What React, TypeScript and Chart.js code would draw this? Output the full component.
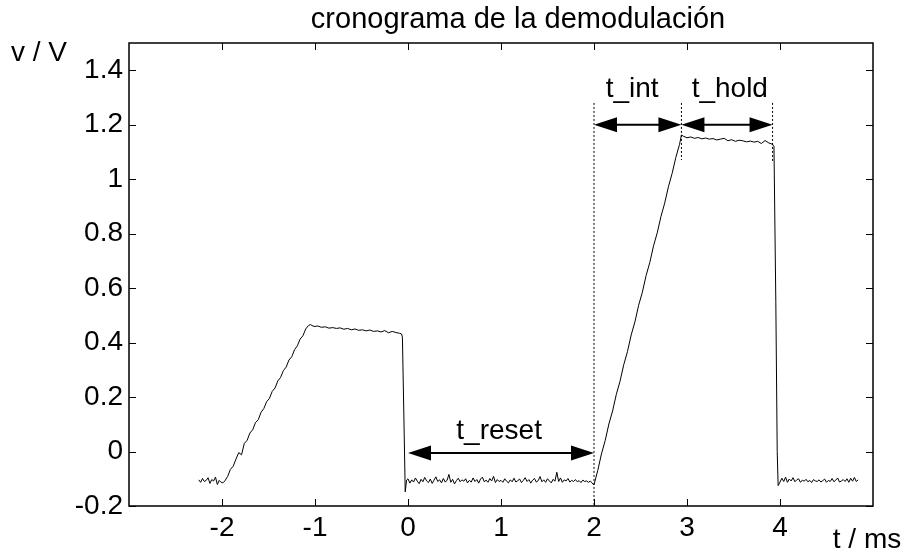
import React, { useEffect, useRef } from 'react';
import { Chart, registerables } from 'chart.js';

Chart.register(...registerables);

const FONT = '"Liberation Sans", Arial, Helvetica, sans-serif';

// ---- axis definition ----
const xMin = -3;
const xMax = 5;
const yMin = -0.2;
const yMax = 1.5;
const xTickValues = [-2, -1, 0, 1, 2, 3, 4];
const xTickLabels = ['-2', '-1', '0', '1', '2', '3', '4'];
const yTickValues = [-0.2, 0, 0.2, 0.4, 0.6, 0.8, 1.0, 1.2, 1.4];
const yTickLabels = ['-0.2', '0', '0.2', '0.4', '0.6', '0.8', '1', '1.2', '1.4'];

const chartTitle = 'cronograma de la demodulación';
const yAxisLabel = 'v / V';
const xAxisLabel = 't / ms';

// ---- measured trace (t in ms, v in V) ----
const baseline1T = [-2.25, -2.23, -2.21, -2.19, -2.17, -2.15, -2.13, -2.11, -2.09, -2.07, -2.05, -2.03, -2.01, -1.99];
const baseline1V = [-0.104, -0.113, -0.099, -0.110, -0.106, -0.096, -0.117, -0.103, -0.108, -0.094, -0.121, -0.106, -0.113, -0.115];

const ramp1T = [-1.97, -1.94, -1.91, -1.88, -1.85, -1.82, -1.79, -1.76, -1.73, -1.70, -1.67, -1.64, -1.61, -1.58, -1.55, -1.52, -1.49, -1.46, -1.43, -1.40, -1.37, -1.34, -1.31, -1.28, -1.25, -1.22, -1.19, -1.16, -1.13, -1.10, -1.07];
const ramp1V = [-0.108, -0.092, -0.066, -0.054, -0.028, -0.004, -0.012, 0.030, 0.041, 0.068, 0.080, 0.106, 0.117, 0.144, 0.158, 0.183, 0.195, 0.221, 0.233, 0.259, 0.272, 0.297, 0.310, 0.336, 0.348, 0.374, 0.388, 0.413, 0.425, 0.450, 0.463];

const hold1T = [-1.05, -1.01, -0.97, -0.93, -0.89, -0.85, -0.81, -0.77, -0.73, -0.69, -0.65, -0.61, -0.57, -0.53, -0.49, -0.45, -0.41, -0.37, -0.33, -0.29, -0.25, -0.21, -0.17, -0.13, -0.09, -0.07];
const hold1V = [0.466, 0.459, 0.461, 0.456, 0.458, 0.453, 0.455, 0.452, 0.454, 0.449, 0.452, 0.447, 0.450, 0.445, 0.447, 0.443, 0.446, 0.441, 0.443, 0.439, 0.444, 0.436, 0.441, 0.437, 0.434, 0.432];

const drop1T = [-0.06, -0.04, -0.03, -0.015];
const drop1V = [0.420, 0.050, -0.148, -0.105];

const resetT = [
  0.00, 0.02, 0.04, 0.06, 0.08, 0.10, 0.12, 0.14, 0.16, 0.18,
  0.20, 0.22, 0.24, 0.26, 0.28, 0.30, 0.32, 0.34, 0.36, 0.38,
  0.40, 0.42, 0.44, 0.46, 0.48, 0.50, 0.52, 0.54, 0.56, 0.58,
  0.60, 0.62, 0.64, 0.66, 0.68, 0.70, 0.72, 0.74, 0.76, 0.78,
  0.80, 0.82, 0.84, 0.86, 0.88, 0.90, 0.92, 0.94, 0.96, 0.98,
  1.00, 1.02, 1.04, 1.06, 1.08, 1.10, 1.12, 1.14, 1.16, 1.18,
  1.20, 1.22, 1.24, 1.26, 1.28, 1.30, 1.32, 1.34, 1.36, 1.38,
  1.40, 1.42, 1.44, 1.46, 1.48, 1.50, 1.52, 1.54, 1.56, 1.58,
  1.60, 1.62, 1.64, 1.66, 1.68, 1.70, 1.72, 1.74, 1.76, 1.78,
  1.80, 1.82, 1.84, 1.86, 1.88, 1.90, 1.92, 1.94, 1.96, 1.98,
  1.99,
];
const resetV = [
  -0.100, -0.116, -0.104, -0.112, -0.097, -0.109, -0.118, -0.102, -0.111, -0.095,
  -0.108, -0.114, -0.101, -0.117, -0.105, -0.093, -0.110, -0.104, -0.115, -0.099,
  -0.112, -0.106, -0.084, -0.113, -0.102, -0.119, -0.107, -0.098, -0.111, -0.104,
  -0.109, -0.100, -0.115, -0.106, -0.112, -0.097, -0.110, -0.103, -0.116, -0.101,
  -0.094, -0.111, -0.105, -0.113, -0.099, -0.108, -0.091, -0.114, -0.103, -0.110,
  -0.106, -0.113, -0.100, -0.109, -0.115, -0.104, -0.111, -0.098, -0.112, -0.107,
  -0.101, -0.114, -0.106, -0.096, -0.110, -0.103, -0.116, -0.105, -0.099, -0.112,
  -0.107, -0.092, -0.111, -0.104, -0.113, -0.100, -0.108, -0.115, -0.102, -0.109,
  -0.076, -0.110, -0.097, -0.113, -0.104, -0.108, -0.099, -0.112, -0.106, -0.110,
  -0.103, -0.111, -0.107, -0.114, -0.105, -0.110, -0.108, -0.113, -0.109, -0.115,
  -0.120,
];

const ramp2T = [2.00, 2.04, 2.08, 2.12, 2.16, 2.20, 2.24, 2.28, 2.32, 2.36, 2.40, 2.44, 2.48, 2.52, 2.56, 2.60, 2.64, 2.68, 2.72, 2.76, 2.80, 2.84, 2.88, 2.92, 2.94];
const ramp2V = [-0.122, -0.070, -0.009, 0.040, 0.101, 0.149, 0.210, 0.258, 0.319, 0.367, 0.428, 0.476, 0.537, 0.585, 0.646, 0.694, 0.755, 0.803, 0.863, 0.912, 0.972, 1.021, 1.080, 1.128, 1.162];

const hold2T = [2.96, 3.00, 3.04, 3.08, 3.12, 3.16, 3.20, 3.24, 3.28, 3.32, 3.36, 3.40, 3.44, 3.48, 3.52, 3.56, 3.60, 3.64, 3.68, 3.72, 3.76, 3.80, 3.84, 3.88, 3.92];
const hold2V = [1.158, 1.152, 1.155, 1.150, 1.153, 1.148, 1.151, 1.147, 1.149, 1.144, 1.147, 1.150, 1.141, 1.145, 1.139, 1.143, 1.141, 1.137, 1.140, 1.136, 1.139, 1.131, 1.142, 1.133, 1.128];

const drop2T = [3.935, 3.955, 3.97, 3.98];
const drop2V = [1.120, 0.550, 0.000, -0.125];

const baseline2T = [
  4.00, 4.02, 4.04, 4.06, 4.08, 4.10, 4.12, 4.14, 4.16, 4.18,
  4.20, 4.22, 4.24, 4.26, 4.28, 4.30, 4.32, 4.34, 4.36, 4.38,
  4.40, 4.42, 4.44, 4.46, 4.48, 4.50, 4.52, 4.54, 4.56, 4.58,
  4.60, 4.62, 4.64, 4.66, 4.68, 4.70, 4.72, 4.74, 4.76, 4.78,
  4.80, 4.82, 4.84,
];
const baseline2V = [
  -0.112, -0.098, -0.110, -0.094, -0.113, -0.101, -0.108, -0.096, -0.111, -0.104,
  -0.100, -0.113, -0.105, -0.109, -0.102, -0.111, -0.106, -0.114, -0.103, -0.108,
  -0.110, -0.104, -0.112, -0.107, -0.101, -0.113, -0.106, -0.110, -0.099, -0.111,
  -0.105, -0.097, -0.112, -0.108, -0.103, -0.110, -0.100, -0.113, -0.098, -0.109,
  -0.095, -0.110, -0.104,
];

// ---- annotations ----
const markerX = [2.0, 2.94, 3.92];
const markerTop = [1.28, 1.28, 1.28];
const markerBottom = [-0.2, 1.07, 1.06];

const arrowStart = [0.0, 2.0, 2.94];
const arrowEnd = [2.0, 2.94, 3.92];
const arrowLevel = [-0.005, 1.2, 1.2];

const labelTexts = ['t_reset', 't_int', 't_hold'];
const labelX = [0.98, 2.41, 3.46];
const labelY = [0.074, 1.33, 1.33];

const traceT = [...baseline1T, ...ramp1T, ...hold1T, ...drop1T, ...resetT, ...ramp2T, ...hold2T, ...drop2T, ...baseline2T];
const traceV = [...baseline1V, ...ramp1V, ...hold1V, ...drop1V, ...resetV, ...ramp2V, ...hold2V, ...drop2V, ...baseline2V];

const decorPlugin = {
  id: 'decor',
  afterDatasetsDraw(chart: any) {
    const { ctx, chartArea: a, scales } = chart;
    const xs = scales.x;
    const ys = scales.y;
    ctx.save();
    ctx.strokeStyle = '#000';
    ctx.fillStyle = '#000';

    // frame
    ctx.lineWidth = 1.5;
    ctx.strokeRect(a.left, a.top, a.right - a.left, a.bottom - a.top);

    // inward ticks
    ctx.lineWidth = 1;
    const tl = 7;
    ctx.beginPath();
    yTickValues.forEach((v) => {
      const py = Math.round(ys.getPixelForValue(v)) + 0.5;
      ctx.moveTo(a.left, py);
      ctx.lineTo(a.left + tl, py);
      ctx.moveTo(a.right, py);
      ctx.lineTo(a.right - tl, py);
    });
    xTickValues.forEach((v) => {
      const px = Math.round(xs.getPixelForValue(v)) + 0.5;
      ctx.moveTo(px, a.bottom);
      ctx.lineTo(px, a.bottom - tl);
      ctx.moveTo(px, a.top);
      ctx.lineTo(px, a.top + tl);
    });
    ctx.stroke();

    // arrows
    arrowStart.forEach((s, i) => {
      const x1 = xs.getPixelForValue(s);
      const x2 = xs.getPixelForValue(arrowEnd[i]);
      const py = ys.getPixelForValue(arrowLevel[i]);
      const hl = 23;
      const hw = 7.5;
      ctx.lineWidth = 2;
      ctx.beginPath();
      ctx.moveTo(x1 + hl - 2, py);
      ctx.lineTo(x2 - hl + 2, py);
      ctx.stroke();
      ctx.beginPath();
      ctx.moveTo(x1, py);
      ctx.lineTo(x1 + hl, py - hw);
      ctx.lineTo(x1 + hl, py + hw);
      ctx.closePath();
      ctx.fill();
      ctx.beginPath();
      ctx.moveTo(x2, py);
      ctx.lineTo(x2 - hl, py - hw);
      ctx.lineTo(x2 - hl, py + hw);
      ctx.closePath();
      ctx.fill();
    });

    // annotation labels
    ctx.font = `28px ${FONT}`;
    ctx.textAlign = 'center';
    ctx.textBaseline = 'middle';
    labelTexts.forEach((t, i) => {
      ctx.fillText(t, xs.getPixelForValue(labelX[i]), ys.getPixelForValue(labelY[i]));
    });

    // title and axis labels
    ctx.font = `29px ${FONT}`;
    ctx.fillText(chartTitle, (a.left + a.right) / 2 + 17, 20);
    ctx.font = `28px ${FONT}`;
    ctx.fillText(yAxisLabel, a.left - 90, a.top + 10);
    ctx.fillText(xAxisLabel, a.right - 6, a.bottom + 34);
    ctx.restore();
  },
};

export default function App() {
  const ref = useRef<HTMLCanvasElement | null>(null);
  useEffect(() => {
    document.body.style.margin = '0';
    const canvas = ref.current;
    if (!canvas) return;
    const traceData = traceT.map((t, i) => ({ x: t, y: traceV[i] }));
    const markerSets = markerX.map((mx, i) => ({
      data: [
        { x: mx, y: markerTop[i] },
        { x: mx, y: markerBottom[i] },
      ],
      showLine: true,
      borderColor: '#000',
      borderWidth: 1,
      borderDash: [2, 2],
      pointRadius: 0,
    }));
    const chart = new Chart(canvas, {
      type: 'scatter',
      data: {
        datasets: [
          {
            data: traceData,
            showLine: true,
            borderColor: '#000',
            borderWidth: 1,
            pointRadius: 0,
            tension: 0,
          },
          ...markerSets,
        ],
      },
      options: {
        responsive: false,
        animation: false,
        devicePixelRatio: 1,
        layout: { padding: { top: 43, right: 33, left: 0, bottom: 0 } },
        plugins: {
          legend: { display: false },
          tooltip: { enabled: false },
          title: { display: false },
        },
        scales: {
          x: {
            type: 'linear',
            min: xMin,
            max: xMax,
            afterBuildTicks: (s: any) => {
              s.ticks = xTickValues.map((v) => ({ value: v }));
            },
            afterFit: (s: any) => {
              s.height = 43;
            },
            grid: { display: false, drawTicks: false },
            border: { display: false },
            ticks: {
              color: '#000',
              font: { family: FONT, size: 28 },
              padding: 5,
              maxRotation: 0,
              autoSkip: false,
              callback: (_v: any, i: number) => xTickLabels[i],
            },
          },
          y: {
            type: 'linear',
            min: yMin,
            max: yMax,
            afterBuildTicks: (s: any) => {
              s.ticks = yTickValues.map((v) => ({ value: v }));
            },
            afterFit: (s: any) => {
              s.width = 129;
            },
            grid: { display: false, drawTicks: false },
            border: { display: false },
            ticks: {
              color: '#000',
              font: { family: FONT, size: 28 },
              padding: 6,
              autoSkip: false,
              callback: (_v: any, i: number) => yTickLabels[i],
            },
          },
        },
      },
      plugins: [decorPlugin],
    } as any);
    return () => chart.destroy();
  }, []);
  return <canvas ref={ref} width={906} height={549} style={{ display: 'block' }} />;
}
